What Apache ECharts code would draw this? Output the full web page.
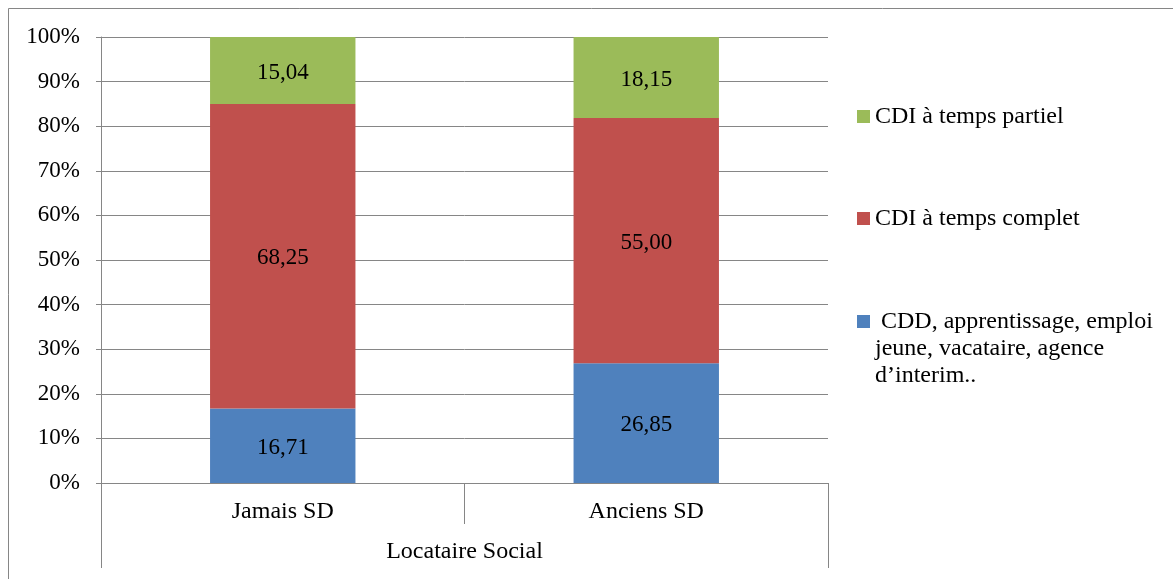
<!DOCTYPE html>
<html>
<head>
<meta charset="utf-8">
<script src="https://cdn.jsdelivr.net/npm/echarts@6/dist/echarts.min.js"></script>
<style>
  html, body { margin: 0; padding: 0; background: #ffffff; }
  #chart { width: 1173px; height: 579px; }
</style>
</head>
<body>
<div id="chart"></div>
<script>
// Répartition des types de contrat selon le statut (locataires sociaux)
const categories = ['Jamais SD', 'Anciens SD'];
const groupLabel = ['Locataire Social'];
const cddValues = [16.71, 26.85];
const cdiCompletValues = [68.25, 55.00];
const cdiPartielValues = [15.04, 18.15];

const nameCdd = 'CDD, apprentissage, emploi jeune, vacataire, agence d’interim..';
const nameComplet = 'CDI à temps complet';
const namePartiel = 'CDI à temps partiel';
const cddLegendLines = [' CDD, apprentissage, emploi', 'jeune, vacataire, agence', 'd’interim..'];

const FONT = 'Liberation Serif';
const GRID_GREY = '#868686';
const FS = 23;       // axis values and bar labels
const FS_TEXT = 24;  // legend and category labels

const chart = echarts.init(document.getElementById('chart'), null, { renderer: 'canvas' });

const fmt = v => v.toFixed(2).replace('.', ',');

function barSeries(name, values, color) {
  return {
    name: name,
    type: 'bar',
    stack: 'total',
    barWidth: '40%',
    data: values,
    itemStyle: { color: color },
    label: {
      show: true,
      position: 'inside',
      offset: [0, 2],
      color: '#000000',
      fontFamily: FONT,
      fontSize: FS,
      formatter: p => fmt(p.value)
    },
    emphasis: { disabled: true }
  };
}

function legendFor(name, top, extra) {
  return Object.assign({
    data: [name],
    orient: 'vertical',
    left: 857,
    top: top,
    padding: 0,
    itemWidth: 13,
    itemHeight: 13,
    icon: 'rect',
    selectedMode: false,
    textStyle: { fontFamily: FONT, fontSize: FS_TEXT, color: '#000000', lineHeight: 27 }
  }, extra || {});
}

chart.setOption({
  animation: false,
  backgroundColor: '#ffffff',
  graphic: [{
    type: 'rect',
    shape: { x: 8.5, y: 8.5, width: 1400, height: 800 },
    style: { fill: null, stroke: GRID_GREY, lineWidth: 1 },
    silent: true
  }],
  grid: { left: 101, right: 345, top: 37, bottom: 96, containLabel: false },
  legend: [
    legendFor(namePartiel, 103),
    legendFor(nameComplet, 205),
    // two blank lines ahead of the text keep the swatch level with its first line
    legendFor(nameCdd, 254, {
      formatter: () => '\n\n' + cddLegendLines.join('\n')
    })
  ],
  xAxis: [{
    type: 'category',
    data: categories,
    position: 'bottom',
    axisLine: { show: true, lineStyle: { color: GRID_GREY, width: 1 } },
    axisTick: { show: true, interval: 0, length: 41, lineStyle: { color: GRID_GREY } },
    axisLabel: { interval: 0, margin: 17, color: '#000000', fontFamily: FONT, fontSize: FS_TEXT, lineHeight: 24 }
  }, {
    type: 'category',
    data: groupLabel,
    position: 'bottom',
    gridIndex: 0,
    axisLine: { show: false },
    axisTick: { show: true, length: 85, lineStyle: { color: GRID_GREY } },
    axisLabel: { margin: 57, color: '#000000', fontFamily: FONT, fontSize: FS_TEXT, lineHeight: 24 }
  }],
  yAxis: {
    type: 'value',
    min: 0,
    max: 100,
    interval: 10,
    axisLine: { show: true, lineStyle: { color: GRID_GREY, width: 1 } },
    axisTick: { show: true, length: 5, lineStyle: { color: GRID_GREY } },
    splitLine: { show: true, lineStyle: { color: GRID_GREY, width: 1 } },
    axisLabel: { margin: 21, formatter: '{value}%', color: '#000000', fontFamily: FONT, fontSize: FS }
  },
  series: [
    barSeries(nameCdd, cddValues, '#4F81BD'),
    barSeries(nameComplet, cdiCompletValues, '#C0504D'),
    barSeries(namePartiel, cdiPartielValues, '#9BBB59')
  ]
});
</script>
</body>
</html>
